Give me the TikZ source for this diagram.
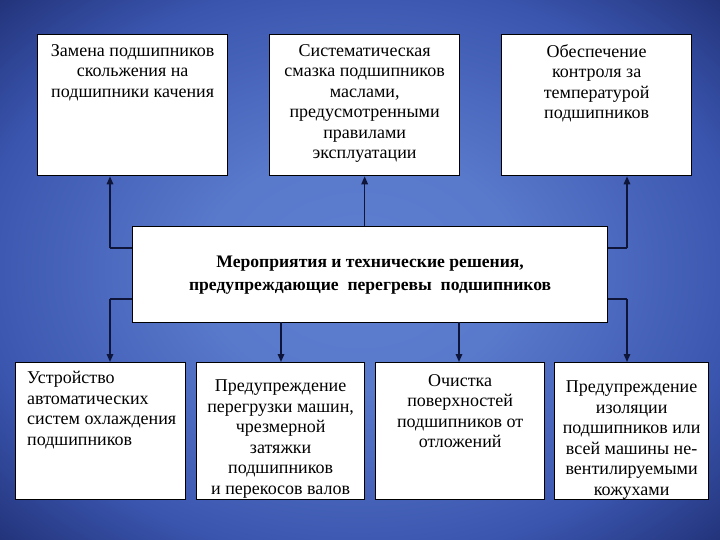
\documentclass[tikz,border=0pt]{standalone}
\usepackage{fontspec}
\setmainfont{Liberation Serif}
\usetikzlibrary{arrows.meta}
\definecolor{bginner}{HTML}{5E7FD0}
\definecolor{bgmid}{HTML}{3A55AE}
\definecolor{bgouter}{HTML}{1C2A6C}
\definecolor{linecol}{HTML}{0E1538}
\pgfdeclareradialshading{bgshade}{\pgfpoint{0bp}{0bp}}{%
  color(0bp)=(bginner); color(10bp)=(bginner!85!bgmid); color(24bp)=(bgmid); color(34bp)=(bgouter); color(50bp)=(bgouter)}
\tikzset{
  box/.style={draw=black, line width=1.3pt, fill=white, anchor=north west, inner sep=0pt},
  txt/.style={font=\fontsize{18}{20.5}\selectfont, align=center, inner sep=0pt, anchor=north},
  conn/.style={draw=linecol, line width=1.5pt, -{Triangle[length=8pt,width=6.5pt]}},
  plain/.style={draw=linecol, line width=1.5pt},
}
\begin{document}
\begin{tikzpicture}[x=1pt,y=-1pt]
\useasboundingbox (0,0) rectangle (720,540);
\shade[shading=bgshade] (-40,-30) rectangle (760,570);
% top boxes
\node[box, minimum width=190pt, minimum height=141pt] (t1) at (37,34) {};
\node[box, minimum width=190pt, minimum height=141pt] (t2) at (269,34) {};
\node[box, minimum width=190pt, minimum height=141pt] (t3) at (501,34) {};
\node[txt] at ([yshift=-10pt]t1.north) {Замена подшипников\\скольжения на\\подшипники качения};
\node[txt] at ([yshift=-10pt]t2.north) {Систематическая\\смазка подшипников\\маслами,\\предусмотренными\\правилами\\эксплуатации};
\node[txt] at ([yshift=-10pt]t3.north) {Обеспечение\\контроля  за\\температурой\\подшипников};
% center
\node[box, minimum width=475pt, minimum height=96pt, font=\bfseries\fontsize{17.6}{23}\selectfont, align=center] (c) at (132,226) {Мероприятия и технические решения,\\предупреждающие~ перегревы~ подшипников};
% bottom boxes
\node[box, minimum width=170pt, minimum height=137pt] (b1) at (15,362) {};
\node[box, minimum width=168pt, minimum height=137pt] (b2) at (196,362) {};
\node[box, minimum width=169pt, minimum height=137pt] (b3) at (375,362) {};
\node[box, minimum width=154pt, minimum height=137pt] (b4) at (554,362) {};
\node[txt, align=left, anchor=north west] at ([xshift=12pt,yshift=-9pt]b1.north west) {Устройство\\автоматических\\систем охлаждения\\подшипников};
\node[txt] at ([yshift=-18pt]b2.north) {Предупреждение\\перегрузки машин,\\чрезмерной\\затяжки\\подшипников\\и перекосов валов};
\node[txt] at ([yshift=-12pt]b3.north) {Очистка\\поверхностей\\подшипников от\\отложений};
\node[txt] at ([yshift=-19pt]b4.north) {Предупреждение\\изоляции\\подшипников или\\всей машины не-\\вентилируемыми\\кожухами};
% connectors
\coordinate (ul) at (110,248);
\coordinate (ur) at (627,248);
\coordinate (dl) at (110,299);
\coordinate (dr) at (627,299);
\draw[plain] (c.west |- ul) -- (ul);
\draw[conn] (ul) -- (ul |- t1.south);
\draw[conn] (c.north -| t2.south) -- (t2.south);
\draw[plain] (c.east |- ur) -- (ur);
\draw[conn] (ur) -- (ur |- t3.south);
\draw[plain] (c.west |- dl) -- (dl);
\draw[conn] (dl) -- (dl |- b1.north);
\draw[conn] (281,322) -- (281,362);
\draw[conn] (459,322) -- (459,362);
\draw[plain] (c.east |- dr) -- (dr);
\draw[conn] (dr) -- (dr |- b4.north);
\end{tikzpicture}
\end{document}
